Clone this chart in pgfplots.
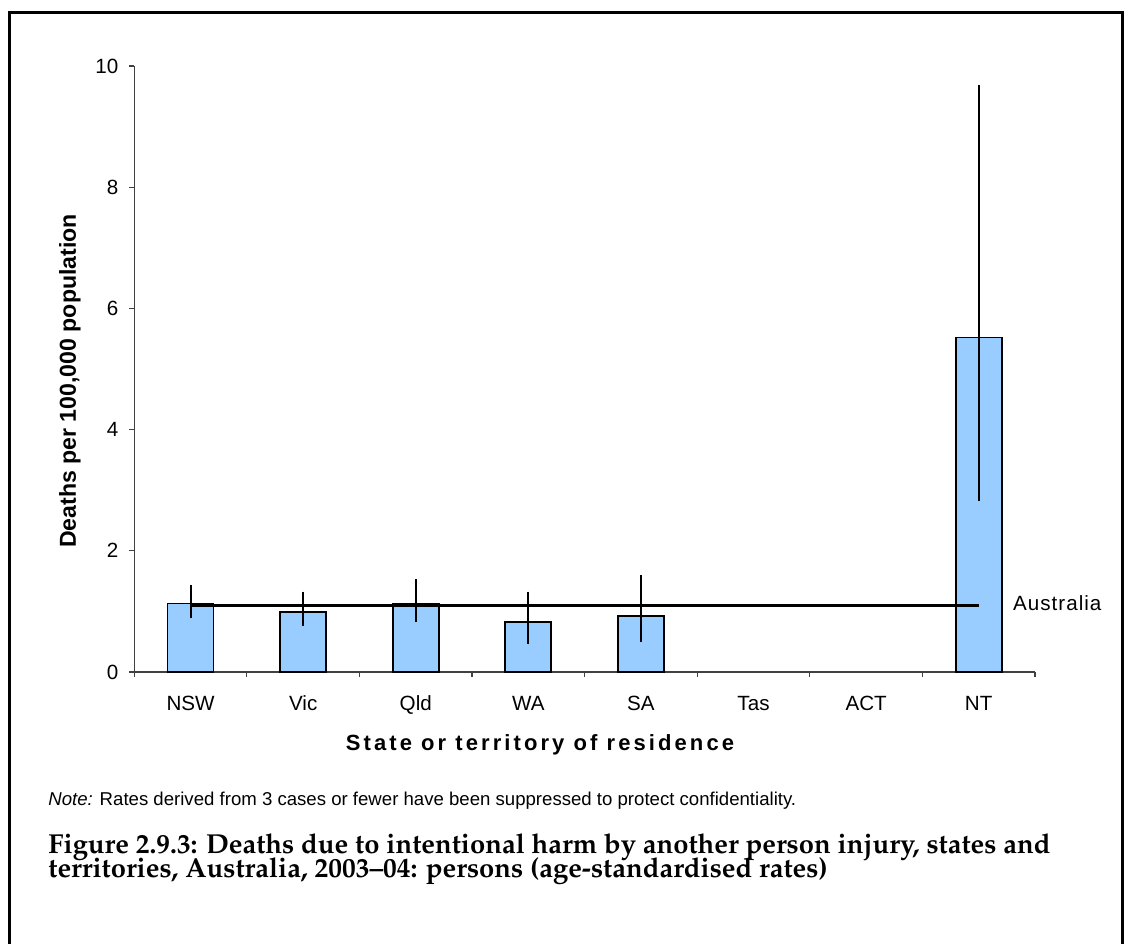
\documentclass[border=0pt]{standalone}
\usepackage[T1]{fontenc}
\usepackage{pgfplots}
\pgfplotsset{compat=1.18}
\usepackage{pgfplotstable}
\usepackage{fontspec}
\setmainfont{Liberation Sans}
\definecolor{barblue}{RGB}{153,204,255}
\newcommand{\capfont}{\fontencoding{T1}\fontfamily{ppl}\fontseries{b}\selectfont}

\pgfplotstableread{
x y ep em
0 1.13 0.31 0.24
1 0.99 0.335 0.226
2 1.13 0.40 0.305
3 0.83 0.495 0.373
4 0.93 0.665 0.435
7 5.52 4.17 2.70
}\bardata

\pgfplotstableread{
x y
0 1.10
7 1.10
}\ausdata

\begin{document}
\begin{tikzpicture}[x=1pt,y=1pt]
\path[use as bounding box] (0,0) rectangle (562.5,471.5);
\draw[line width=1.5pt] (4.5,-2) -- (4.5,465) -- (561,465) -- (561,-2);
\begin{axis}[
  at={(67.15pt,135.5pt)}, anchor=south west,
  scale only axis, width=450.35pt, height=303pt,
  xmin=-0.5, xmax=7.5, ymin=0, ymax=10,
  axis x line=bottom, axis y line=left,
  axis line style={black!75, line width=0.6pt, -},
  xtick={0,...,7},
  xticklabels={NSW,Vic,Qld,WA,SA,Tas,ACT,NT},
  minor xtick={-0.5,0.5,...,7.5},
  major x tick style={draw=none},
  minor x tick style={black!75, line width=0.6pt},
  minor tick length=2.5pt,
  ytick={0,2,...,10},
  major tick length=2.5pt,
  y tick style={black!75, line width=0.6pt},
  tick align=outside,
  ticklabel style={font=\fontsize{10.3}{12}\selectfont},
  /pgf/number format/assume math mode=true,
  xticklabel style={yshift=-6pt},
  yticklabel style={xshift=-2pt},
  clip=false,
]
\addplot[ybar, bar width=23pt, fill=barblue, draw=black, line width=0.9pt,
  error bars/.cd, y dir=both, y explicit, error mark=none,
  error bar style={line width=1pt, black}]
  table[x=x, y=y, y error plus=ep, y error minus=em] {\bardata};
\addplot[black, line width=1.6pt, mark=none] table[x=x,y=y] {\ausdata};
\end{axis}
\node[rotate=90, font=\fontsize{11.55}{14}\selectfont\bfseries] at (35,281) {Deaths per 100,000 population};
\node[font=\fontsize{11}{13}\selectfont\bfseries\addfontfeature{LetterSpace=14}] at (270,99) {State or territory of residence};
\node[anchor=west, font=\fontsize{10.3}{12}\selectfont\addfontfeature{LetterSpace=5}] at (503,170) {Australia};
\node[anchor=base west, inner sep=0pt, font=\fontsize{9.3}{11}\selectfont] at (24,68.5) {\textit{Note:} Rates derived from 3 cases or fewer have been suppressed to protect confidentiality.};
\node[anchor=base west, inner sep=0pt] at (24,45) {\capfont\fontsize{13.7}{16}\selectfont Figure 2.9.3: Deaths due to intentional harm by another person injury, states and};
\node[anchor=base west, inner sep=0pt] at (24,32.5) {\capfont\fontsize{13.7}{16}\selectfont territories, Australia, 2003--04: persons (age-standardised rates)};
\end{tikzpicture}
\end{document}
